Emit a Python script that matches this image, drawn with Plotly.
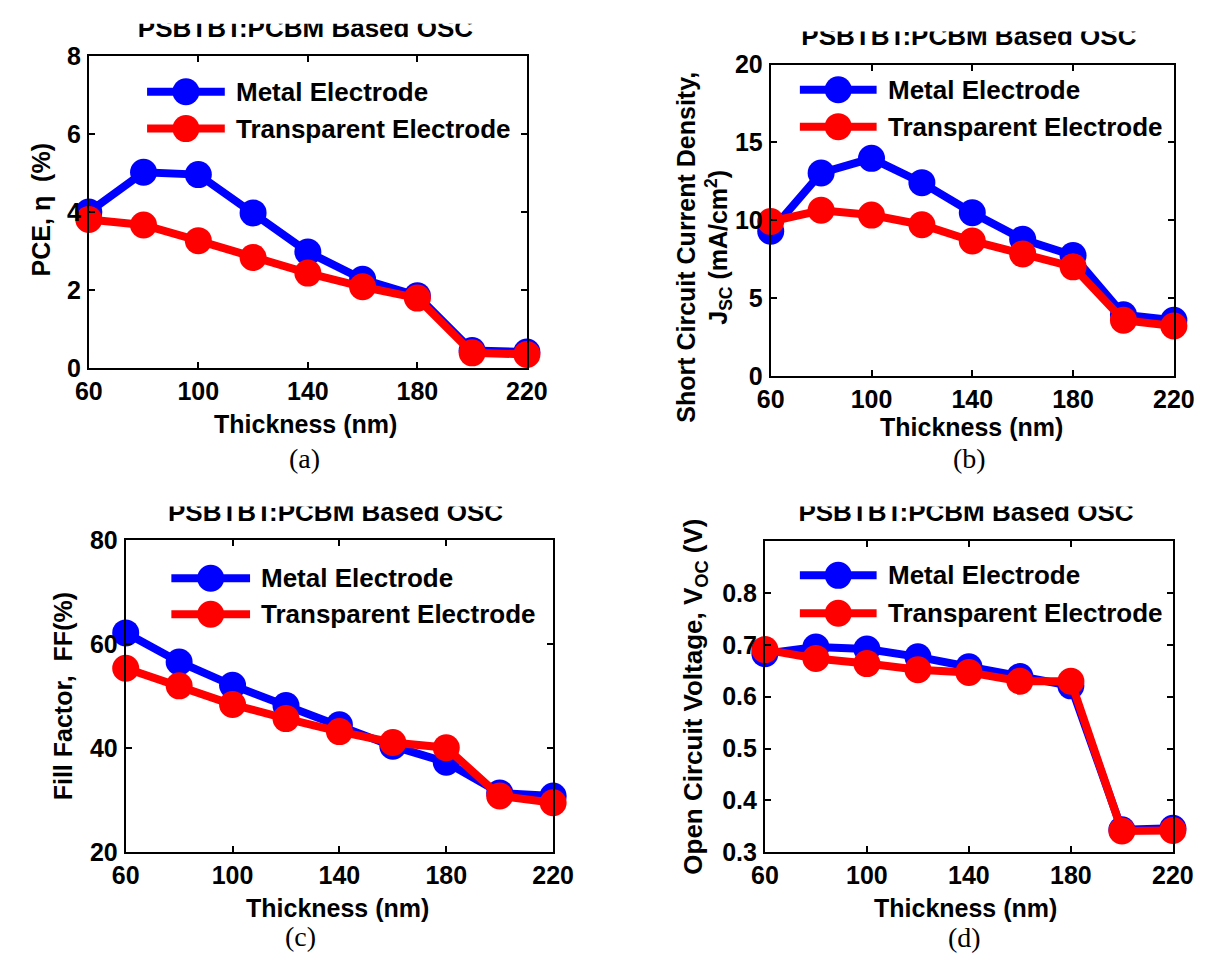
import plotly.graph_objects as go

W, H = 1224, 972

# ---- data -------------------------------------------------------------
thickness = [60, 80, 100, 120, 140, 160, 180, 200, 220]
x_ticks = [60, 100, 140, 180, 220]

pce_metal = [4.00, 5.02, 4.96, 3.98, 2.98, 2.28, 1.86, 0.46, 0.42]
pce_transparent = [3.81, 3.67, 3.27, 2.84, 2.44, 2.09, 1.80, 0.40, 0.36]

jsc_metal = [9.30, 13.04, 13.98, 12.42, 10.49, 8.79, 7.75, 3.95, 3.59]
jsc_transparent = [9.93, 10.65, 10.34, 9.72, 8.68, 7.85, 7.02, 3.59, 3.22]

ff_metal = [62.2, 56.6, 52.1, 48.2, 44.5, 40.4, 37.3, 31.4, 30.8]
ff_transparent = [55.4, 52.0, 48.4, 45.7, 43.2, 41.1, 40.1, 30.8, 29.5]

voc_metal = [0.683, 0.696, 0.692, 0.677, 0.658, 0.639, 0.621, 0.343, 0.346]
voc_transparent = [0.691, 0.674, 0.664, 0.652, 0.647, 0.630, 0.630, 0.341, 0.342]

series_names = ["Metal Electrode", "Transparent Electrode"]
panel_title = "PSBTBT:PCBM Based OSC"

BLUE = "#0000ff"
RED = "#ff0000"
SANS = "Liberation Sans, Arial, sans-serif"
SERIF = "Liberation Serif, Times New Roman, serif"

# ---- panel geometry (pixel boxes: left, top, right, bottom) -----------
panels = [
    dict(box=(77, 43, 528, 365), metal=pce_metal, transp=pce_transparent,
         yrange=[0, 8], yticks=[0, 2, 4, 6, 8], ytext=["0", "2", "4", "6", "8"],
         ylabel="PCE, η  (%)", ylabel_xy=(28, 202), ylabel_size=25,
         title_xy=(300, 23), clip_top=10,
         leg_line=(137, 217), leg_rows=(80, 118), leg_text=226,
         xlabel_xy=(300, 422), caption="(a)", caption_xy=(299, 458)),
    dict(box=(779, 52, 1194, 373), metal=jsc_metal, transp=jsc_transparent,
         yrange=[0, 20], yticks=[0, 5, 10, 15, 20], ytext=["0", "5", "10", "15", "20"],
         ylabel="Short Circuit Current Density,<br>J<sub>SC</sub> (mA/cm<sup>2</sup>)",
         ylabel_xy=(710, 240), ylabel_size=25,
         title_xy=(983, 32), clip_top=18,
         leg_line=(809, 888), leg_rows=(78, 116), leg_text=898,
         xlabel_xy=(986, 425), caption="(b)", caption_xy=(984, 458)),
    dict(box=(115, 542, 555, 863), metal=ff_metal, transp=ff_transparent,
         yrange=[20, 80], yticks=[20, 40, 60, 80], ytext=["20", "40", "60", "80"],
         ylabel="Fill Factor,  FF(%)", ylabel_xy=(50, 703), ylabel_size=25,
         title_xy=(331, 522), clip_top=507,
         leg_line=(162, 243), leg_rows=(581, 618), leg_text=252,
         xlabel_xy=(333, 921), caption="(c)", caption_xy=(295, 950)),
    dict(box=(773, 543, 1193, 863), metal=voc_metal, transp=voc_transparent,
         yrange=[0.3, 0.9], yticks=[0.3, 0.4, 0.5, 0.6, 0.7, 0.8],
         ytext=["0.3", "0.4", "0.5", "0.6", "0.7", "0.8"],
         ylabel="Open Circuit Voltage, V<sub>OC</sub> (V)", ylabel_xy=(701, 703),
         ylabel_size=26,
         title_xy=(980, 522), clip_top=507,
         leg_line=(809, 888), leg_rows=(578, 617), leg_text=898,
         xlabel_xy=(980, 921), caption="(d)", caption_xy=(978, 951)),
]


def fx(px):
    return min(max(px / W, 0.0), 1.0)


def fy(py):
    return min(max(1 - py / H, 0.0), 1.0)


fig = go.Figure()
layout = dict(
    width=W, height=H,
    margin=dict(l=0, r=0, t=0, b=0),
    paper_bgcolor="white", plot_bgcolor="rgba(0,0,0,0)",
    showlegend=False, hovermode=False,
    font=dict(family=SANS, color="black"),
)
annotations = []

TICKFONT = dict(family=SANS, size=25, color="black", weight="bold")


def pixel_axes(n, x0, y0, x1, y1):
    """Axis pair whose data units are page pixels inside the given box."""
    x0, x1 = max(x0, 0), min(x1, W)
    y0, y1 = max(y0, 0), min(y1, H)
    common = dict(visible=False, showgrid=False, zeroline=False, fixedrange=True)
    layout[f"xaxis{n}"] = dict(domain=[fx(x0), fx(x1)], range=[x0, x1],
                               anchor=f"y{n}", **common)
    layout[f"yaxis{n}"] = dict(domain=[fy(y1), fy(y0)], range=[y1, y0],
                               anchor=f"x{n}", **common)


for i, p in enumerate(panels, start=1):
    x0, y0, x1, y1 = p["box"]
    xa, ya = f"x{i}", f"y{i}"
    axis_common = dict(
        showline=True, linecolor="black", linewidth=2, mirror="ticks",
        ticks="inside", ticklen=6, tickwidth=2, tickcolor="black",
        showgrid=False, zeroline=False, tickfont=TICKFONT, fixedrange=True,
    )
    layout[f"xaxis{i}"] = dict(
        domain=[fx(x0), fx(x1)], range=[60, 220], anchor=ya,
        tickmode="array", tickvals=x_ticks, ticktext=[str(v) for v in x_ticks],
        ticklabelstandoff=0, **axis_common)
    layout[f"yaxis{i}"] = dict(
        domain=[fy(y1), fy(y0)], range=p["yrange"], anchor=xa,
        tickmode="array", tickvals=p["yticks"], ticktext=p["ytext"],
        ticklabelstandoff=1, **axis_common)

    for vals, color in ((p["metal"], BLUE), (p["transp"], RED)):
        fig.add_trace(go.Scatter(
            x=thickness, y=vals, xaxis=xa, yaxis=ya, mode="lines+markers",
            line=dict(color=color, width=8),
            marker=dict(color=color, size=27, opacity=1, line=dict(width=0)),
            cliponaxis=False, hoverinfo="skip"))

    # axis titles and caption
    annotations.append(dict(
        x=fx(p["xlabel_xy"][0]), y=fy(p["xlabel_xy"][1]), xref="paper", yref="paper",
        text="Thickness (nm)", showarrow=False, xanchor="center", yanchor="middle",
        font=dict(family=SANS, size=25, color="black", weight="bold")))
    annotations.append(dict(
        x=fx(p["ylabel_xy"][0]), y=fy(p["ylabel_xy"][1]), xref="paper", yref="paper",
        text=p["ylabel"], showarrow=False, textangle=-90, xanchor="center",
        yanchor="middle", align="center",
        font=dict(family=SANS, size=p["ylabel_size"], color="black", weight="bold")))
    annotations.append(dict(
        x=fx(p["caption_xy"][0]), y=fy(p["caption_xy"][1]), xref="paper", yref="paper",
        text=p["caption"], showarrow=False, xanchor="center", yanchor="middle",
        font=dict(family=SERIF, size=28, color="black")))

    # legend text
    for row, name in zip(p["leg_rows"], series_names):
        annotations.append(dict(
            x=fx(p["leg_text"]), y=fy(row), xref="paper", yref="paper",
            text=name, showarrow=False, xanchor="left", yanchor="middle",
            font=dict(family=SANS, size=26, color="black", weight="bold")))

# legend keys drawn on a page-pixel overlay
pixel_axes(9, 0, 0, W, H)
for p in panels:
    lx0, lx1 = p["leg_line"]
    for row, color in zip(p["leg_rows"], (BLUE, RED)):
        fig.add_trace(go.Scatter(
            x=[lx0, lx1], y=[row, row], xaxis="x9", yaxis="y9",
            mode="lines", line=dict(color=color, width=8),
            cliponaxis=False, hoverinfo="skip"))
        fig.add_trace(go.Scatter(
            x=[(lx0 + lx1) / 2], y=[row], xaxis="x9", yaxis="y9",
            mode="markers", marker=dict(color=color, size=27, opacity=1, line=dict(width=0)),
            cliponaxis=False, hoverinfo="skip"))

# panel titles, clipped along their upper edge
for k, p in enumerate(panels):
    n = 10 + k
    cx, base = p["title_xy"]
    x0, _, x1, _ = p["box"]
    pixel_axes(n, x0 - 60, p["clip_top"], x1 + 60, base + 14)
    fig.add_trace(go.Scatter(
        x=[cx], y=[base - 0.25 * 26], xaxis=f"x{n}", yaxis=f"y{n}",
        mode="text", text=[panel_title], textposition="middle center",
        textfont=dict(family=SANS, size=26, color="black", weight="bold"),
        cliponaxis=True, hoverinfo="skip"))

layout["annotations"] = annotations
fig.update_layout(**layout)
fig.write_html(
    "out.html",
    config=dict(displayModeBar=False, staticPlot=True),
    post_script="document.body.style.margin='0';document.body.style.overflow='hidden';",
)
